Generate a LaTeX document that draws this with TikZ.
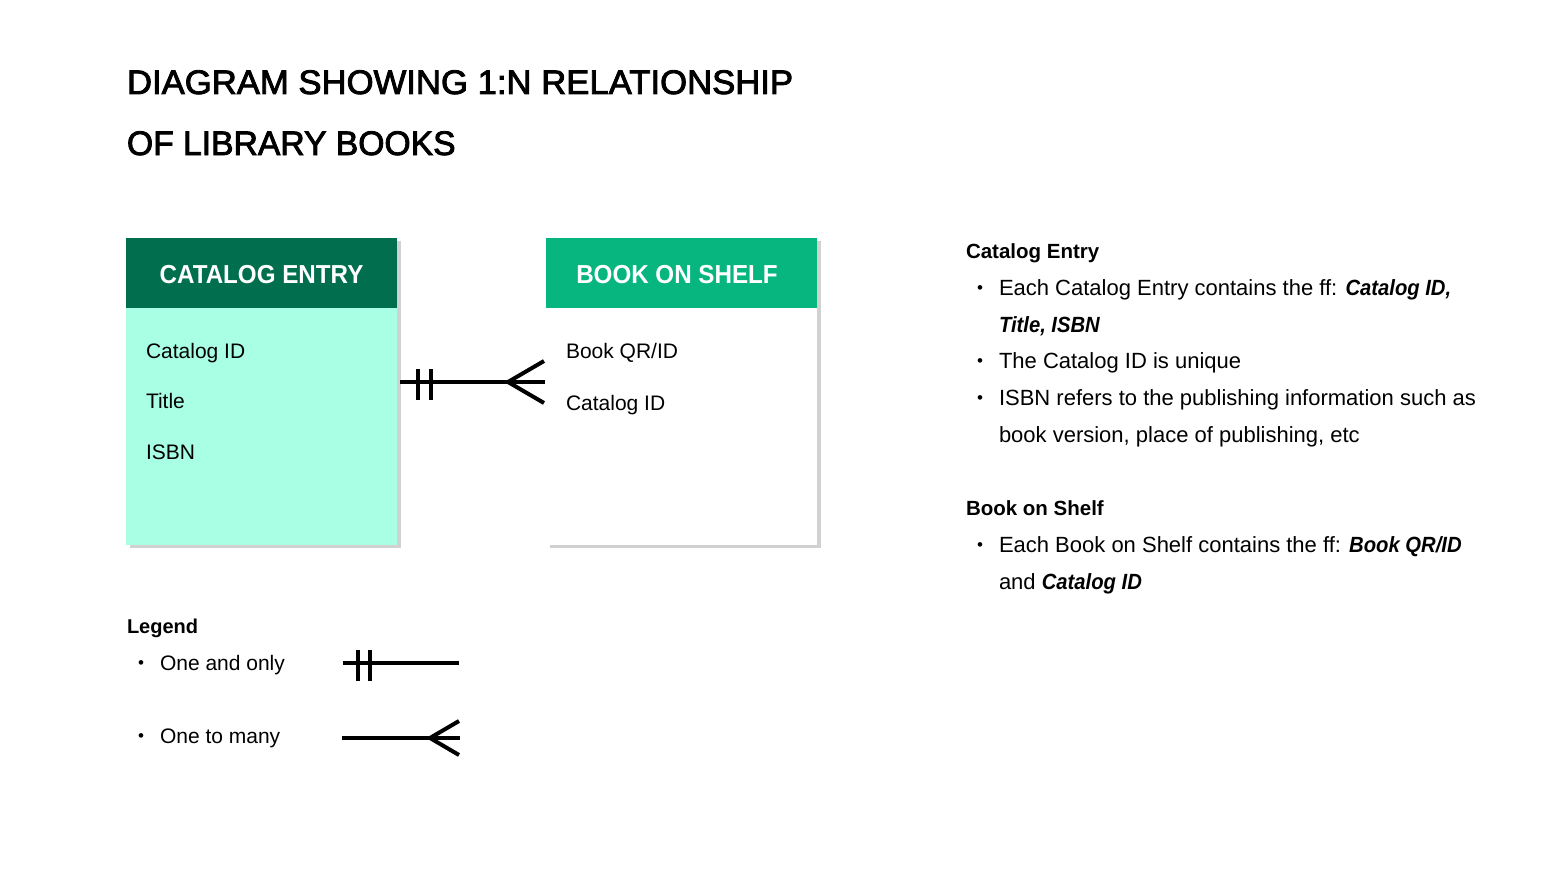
\documentclass[tikz,border=0pt]{standalone}
\usepackage{fontspec}
\usepackage{graphicx}
\setmainfont{Liberation Sans}
\newfontfamily\titlefont{Liberation Sans}[FakeBold=2.5]
\usetikzlibrary{shadows}
\definecolor{dkgreen}{HTML}{016F4E}
\definecolor{emerald}{HTML}{07B67F}
\definecolor{aqua}{HTML}{A9FFE4}
\newcommand{\bitext}[1]{\scalebox{0.92}[1]{\bfseries\itshape #1}}
\tikzset{
  every node/.style={inner sep=0pt, outer sep=0pt},
  titletext/.style={font=\titlefont\fontsize{34}{40}\selectfont, anchor=base west},
  hdrtext/.style={font=\fontsize{26}{30}\selectfont\bfseries, text=white, anchor=base},
  fieldtext/.style={font=\fontsize{21}{25}\selectfont, anchor=base west},
  desctext/.style={font=\fontsize{22}{26}\selectfont, anchor=base west},
  deschead/.style={font=\fontsize{20.5}{24}\selectfont\bfseries, anchor=base west},
  bullettext/.style={font=\fontsize{17}{20}\selectfont, anchor=base west},
  boxshadow/.style={drop shadow={shadow xshift=4pt, shadow yshift=-3pt, fill=black, opacity=0.18}},
  entitybody/.style={minimum width=271, minimum height=307, anchor=north west, boxshadow},
  entityhead/.style={minimum width=271, minimum height=70, anchor=north west},
  erline/.style={line width=4pt, black},
}
\begin{document}
\begin{tikzpicture}[x=1pt, y=-1pt]
\useasboundingbox[fill=white] (0,0) rectangle (1562,872);

% Title
\node[titletext] (t1) at (127,94) {\scalebox{1.02}[1]{DIAGRAM SHOWING 1:N RELATIONSHIP}};
\node[titletext] (t2) at (127,155) {\scalebox{0.99}[1]{OF LIBRARY BOOKS}};

% Catalog entry entity
\node[entitybody, fill=aqua] (ce) at (126,238) {};
\node[entityhead, fill=dkgreen] (ceh) at (126,238) {};
\node[hdrtext] (cet) at (261.5,283) {\scalebox{0.93}[1]{CATALOG ENTRY}};
\node[fieldtext] (ce1) at (146,358) {Catalog ID};
\node[fieldtext] (ce2) at (146,408) {Title};
\node[fieldtext] (ce3) at (146,459) {ISBN};

% Book on shelf entity
\node[entitybody, fill=white] (bs) at (546,238) {};
\node[entityhead, fill=emerald] (bsh) at (546,238) {};
\node[hdrtext] (bst) at (677,283) {\scalebox{0.93}[1]{BOOK ON SHELF}};
\node[fieldtext] (bs1) at (566,358) {Book QR/ID};
\node[fieldtext] (bs2) at (566,410) {Catalog ID};

% Relationship connector
\coordinate (ra) at (400,382);
\coordinate (rb) at (545,382);
\draw[erline] (ra) -- (rb);
\draw[erline] (418,369) -- (418,400);
\draw[erline] (431,369) -- (431,400);
\draw[erline] (544,361) -- (508,382) -- (544,403);

% Legend
\node[deschead, font=\fontsize{20}{24}\selectfont\bfseries] (lg) at (127,633) {Legend};
\node[bullettext] (lb1) at (138,668) {\textbullet};
\node[fieldtext] (l1) at (160,670) {One and only};
\node[bullettext] (lb2) at (138,741) {\textbullet};
\node[fieldtext] (l2) at (160,743) {One to many};
\coordinate (la) at (343,663);
\coordinate (lb) at (459,663);
\draw[erline] (la) -- (lb);
\draw[erline] (358,650) -- (358,681);
\draw[erline] (370,650) -- (370,681);
\coordinate (lc) at (342,738);
\coordinate (ld) at (460,738);
\draw[erline] (lc) -- (ld);
\draw[erline] (459,721) -- (430,738) -- (459,755);

% Description: Catalog Entry
\node[deschead] (d1) at (966,258) {Catalog Entry};
\node[bullettext] (db1) at (977,293) {\textbullet};
\node[desctext] (d1a) at (999,295) {Each Catalog Entry contains the ff: \bitext{Catalog ID,}};
\node[desctext] (d1b) at (999,332) {\bitext{Title, ISBN}};
\node[bullettext] (db2) at (977,366) {\textbullet};
\node[desctext] (d1c) at (999,368) {The Catalog ID is unique};
\node[bullettext] (db3) at (977,403) {\textbullet};
\node[desctext] (d1d) at (999,405) {ISBN refers to the publishing information such as};
\node[desctext] (d1e) at (999,442) {book version, place of publishing, etc};

% Description: Book on Shelf
\node[deschead] (d2) at (966,515) {Book on Shelf};
\node[bullettext] (db4) at (977,550) {\textbullet};
\node[desctext] (d2a) at (999,552) {Each Book on Shelf contains the ff: \bitext{Book QR/ID}};
\node[desctext] (d2b) at (999,589) {and \bitext{Catalog ID}};
\end{tikzpicture}
\end{document}
